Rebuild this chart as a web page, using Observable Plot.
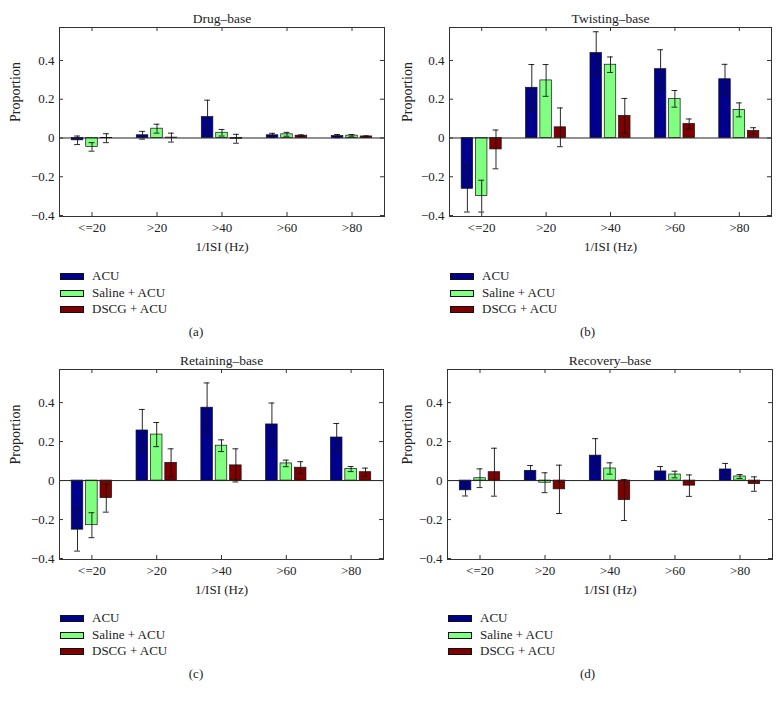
<!DOCTYPE html>
<html>
<head>
<meta charset="utf-8">
<script src="https://cdn.jsdelivr.net/npm/d3@7"></script>
<script src="https://cdn.jsdelivr.net/npm/@observablehq/plot@0.6"></script>
<style>
  html, body { margin: 0; padding: 0; background: #fff; }
  #root { position: relative; width: 783px; height: 701px; font-family: "Liberation Serif", "DejaVu Serif", serif; color: #222; }
  .panel { position: absolute; }
  .legend-row { position: absolute; font-size: 13px; line-height: 13px; white-space: nowrap; }
  .sw { position: absolute; width: 22px; height: 5px; border: 1px solid #111; }
  .lt { position: absolute; top: -7px; }
  .cap { position: absolute; font-size: 13px; width: 392px; text-align: center; }
</style>
</head>
<body>
<div id="root"></div>
<script>
// ---------- data ----------
const categories = ["<=20", ">20", ">40", ">60", ">80"];
const series = ["ACU", "Saline + ACU", "DSCG + ACU"];
const seriesColors = ["#00008F", "#80FF80", "#800000"];
const panelTitles = ["Drug\u2013base", "Twisting\u2013base", "Retaining\u2013base", "Recovery\u2013base"];
const captions = ["(a)", "(b)", "(c)", "(d)"];
const yTicks = [-0.4, -0.2, 0, 0.2, 0.4];
const yTickLabels = ["\u22120.4", "\u22120.2", "0", "0.2", "0.4"];
const xTickValues = [1, 2, 3, 4, 5];

// (a) Drug-base
const drugACU = [-0.012, 0.014, 0.108, 0.014, 0.010];
const drugACUErr = [0.022, 0.020, 0.087, 0.010, 0.008];
const drugSaline = [-0.046, 0.048, 0.027, 0.019, 0.012];
const drugSalineErr = [0.022, 0.023, 0.017, 0.010, 0.006];
const drugDSCG = [-0.001, 0.002, -0.004, 0.012, 0.008];
const drugDSCGErr = [0.023, 0.023, 0.023, 0.004, 0.003];

// (b) Twisting-base
const twistACU = [-0.262, 0.259, 0.438, 0.355, 0.303];
const twistACUErr = [0.120, 0.120, 0.110, 0.100, 0.077];
const twistSaline = [-0.300, 0.297, 0.378, 0.202, 0.145];
const twistSalineErr = [0.082, 0.082, 0.040, 0.043, 0.036];
const twistDSCG = [-0.059, 0.055, 0.114, 0.072, 0.036];
const twistDSCGErr = [0.100, 0.100, 0.090, 0.026, 0.017];

// (c) Retaining-base
const retainACU = [-0.252, 0.257, 0.374, 0.288, 0.221];
const retainACUErr = [0.110, 0.108, 0.127, 0.110, 0.072];
const retainSaline = [-0.229, 0.236, 0.179, 0.088, 0.059];
const retainSalineErr = [0.064, 0.062, 0.030, 0.017, 0.013];
const retainDSCG = [-0.090, 0.091, 0.078, 0.066, 0.043];
const retainDSCGErr = [0.072, 0.072, 0.085, 0.031, 0.021];

// (d) Recovery-base
const recovACU = [-0.050, 0.050, 0.128, 0.047, 0.057];
const recovACUErr = [0.029, 0.027, 0.087, 0.025, 0.031];
const recovSaline = [0.012, -0.011, 0.062, 0.031, 0.021];
const recovSalineErr = [0.048, 0.051, 0.029, 0.017, 0.010];
const recovDSCG = [0.043, -0.045, -0.100, -0.026, -0.018];
const recovDSCGErr = [0.123, 0.124, 0.105, 0.055, 0.037];

// ---------- layout ----------
const panels = [
  {title: panelTitles[0], caption: captions[0], values: [drugACU, drugSaline, drugDSCG], errors: [drugACUErr, drugSalineErr, drugDSCGErr],
   left: 0, top: 0, width: 392, mL: 59, mR: 8, mT: 27, mB: 44},
  {title: panelTitles[1], caption: captions[1], values: [twistACU, twistSaline, twistDSCG], errors: [twistACUErr, twistSalineErr, twistDSCGErr],
   left: 392, top: 0, width: 391, mL: 57, mR: 12, mT: 27, mB: 44},
  {title: panelTitles[2], caption: captions[2], values: [retainACU, retainSaline, retainDSCG], errors: [retainACUErr, retainSalineErr, retainDSCGErr],
   left: 0, top: 342, width: 392, mL: 59, mR: 9, mT: 27, mB: 43},
  {title: panelTitles[3], caption: captions[3], values: [recovACU, recovSaline, recovDSCG], errors: [recovACUErr, recovSalineErr, recovDSCGErr],
   left: 392, top: 342, width: 391, mL: 55, mR: 11, mT: 27, mB: 43}
];
const H = 260;
const offsets = [-0.222, 0, 0.222];
const barW = 0.178;
const capW = 0.045;
const tickLen = 4;
const FONT = "Liberation Serif, DejaVu Serif, serif";

const root = document.getElementById("root");

panels.forEach(p => {
  const data = [];
  series.forEach((s, j) => p.values[j].forEach((v, i) => data.push({c: xTickValues[i], s, j, v, e: p.errors[j][i]})));
  const xc = d => d.c + offsets[d.j];
  const fw = p.width - p.mL - p.mR;
  const fh = H - p.mT - p.mB;
  const txt = {fontFamily: FONT, fill: "#222"};

  const chart = Plot.plot({
    width: p.width, height: H,
    marginLeft: p.mL, marginRight: p.mR, marginTop: p.mT, marginBottom: p.mB,
    style: {background: "white", color: "#222", overflow: "visible", fontFamily: FONT},
    x: {domain: [0.5, 5.5], axis: null},
    y: {domain: [-0.405, 0.57], axis: null},
    color: {domain: series, range: seriesColors},
    marks: [
      Plot.rectY(data, {x1: d => xc(d) - barW / 2, x2: d => xc(d) + barW / 2, y: "v", fill: "s", stroke: "#111", strokeWidth: 0.7}),
      Plot.ruleY([0], {stroke: "#222", strokeWidth: 1}),
      Plot.ruleX(data, {x: xc, y1: d => d.v - d.e, y2: d => d.v + d.e, stroke: "#111", strokeWidth: 0.9}),
      Plot.ruleY(data, {y: d => d.v + d.e, x1: d => xc(d) - capW, x2: d => xc(d) + capW, stroke: "#111", strokeWidth: 0.9}),
      Plot.ruleY(data, {y: d => d.v - d.e, x1: d => xc(d) - capW, x2: d => xc(d) + capW, stroke: "#111", strokeWidth: 0.9}),
      Plot.ruleY(yTicks, {y: d => d, insetRight: fw - tickLen, stroke: "#333"}),
      Plot.ruleY(yTicks, {y: d => d, insetLeft: fw - tickLen, stroke: "#333"}),
      Plot.ruleX(xTickValues, {x: d => d, insetTop: fh - tickLen, stroke: "#333"}),
      Plot.ruleX(xTickValues, {x: d => d, insetBottom: fh - tickLen, stroke: "#333"}),
      Plot.frame({stroke: "#333", strokeWidth: 1}),
      Plot.text(yTicks, {y: d => d, text: (d, i) => yTickLabels[i], frameAnchor: "left", textAnchor: "end", dx: -5, fontSize: 13, ...txt}),
      Plot.text(xTickValues, {x: d => d, text: (d, i) => categories[i], frameAnchor: "bottom", lineAnchor: "top", dy: 6, fontSize: 13, ...txt}),
      Plot.text([p.title], {frameAnchor: "top", dy: -14, fontSize: 13.5, ...txt}),
      Plot.text(["Proportion"], {frameAnchor: "left", rotate: -90, dx: -(p.mL - 15), fontSize: 14, ...txt}),
      Plot.text(["1/ISI (Hz)"], {frameAnchor: "bottom", dy: 34, fontSize: 13, ...txt})
    ]
  });
  const wrap = document.createElement("div");
  wrap.className = "panel";
  wrap.style.left = p.left + "px";
  wrap.style.top = p.top + "px";
  wrap.style.width = p.width + "px";
  wrap.style.height = "360px";
  wrap.appendChild(chart);

  const rowsY = [276, 293, 309];
  series.forEach((s, j) => {
    const row = document.createElement("div");
    row.className = "legend-row";
    row.style.left = (p.mL + 1) + "px";
    row.style.top = rowsY[j] + "px";
    const sw = document.createElement("div");
    sw.className = "sw";
    sw.style.background = seriesColors[j];
    sw.style.left = "0px";
    sw.style.top = "-3px";
    const lt = document.createElement("span");
    lt.className = "lt";
    lt.style.left = "32px";
    lt.textContent = s;
    row.appendChild(sw);
    row.appendChild(lt);
    wrap.appendChild(row);
  });
  const cap = document.createElement("div");
  cap.className = "cap";
  cap.style.left = "0px";
  cap.style.top = "324px";
  cap.style.width = p.width + "px";
  cap.textContent = p.caption;
  wrap.appendChild(cap);
  root.appendChild(wrap);
});
</script>
</body>
</html>
